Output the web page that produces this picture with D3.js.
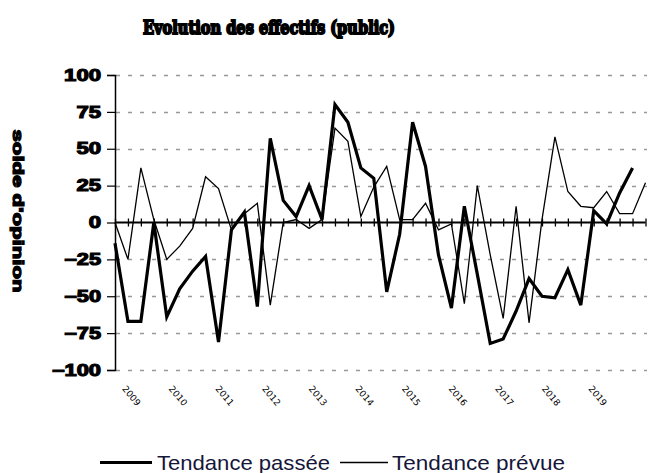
<!DOCTYPE html>
<html><head><meta charset="utf-8">
<script src="https://cdn.jsdelivr.net/npm/d3@7"></script>
<style>html,body{margin:0;padding:0;background:#fff;}svg{display:block;}</style>
</head><body>
<svg id="c" width="672" height="473"></svg>
<script>
// Quarterly categories
const categories = ["2008T3","2008T4"];
for (let y = 2009; y <= 2018; y++) for (let q = 1; q <= 4; q++) categories.push(y + "T" + q);

const passee = [-14,-67,-67,0,-64,-45,-33,-23,-81,-5,7,-57,57,15,4,25,2,80,68,37,30,-47,-8,68,38,-22,-58,11,-35,-82,-79,-60,-38,-50,-51,-32,-56,8,-1,20,37,null];
const prevue = [0,-25,37,2,-25,-16,-4,31,23,-5,6,13,-56,0,2,-4,2,64,55,4,24,38,2,2,13,-5,-1,-55,25,-22,-65,11,-68,2,58,21,11,10,21,6,6,27];
const yTicks = [100,75,50,25,0,-25,-50,-75,-100];
const yearLabels = ["2009","2010","2011","2012","2013","2014","2015","2016","2017","2018","2019"];
const seriesNames = ["Tendance passée","Tendance prévue"];

const svg = d3.select("#c");
svg.append("rect").attr("width",672).attr("height",473).attr("fill","#fff");

const x = d3.scalePoint().domain(categories).range([115, 645.5]);
const y = d3.scaleLinear().domain([-100,100]).range([370,75]);

// gridlines
svg.append("g").selectAll("path").data(yTicks.filter(d=>d!==0)).join("path")
  .attr("d",d=>`M116,${Math.round(y(d))+0.5}H647`)
  .attr("fill","none")
  .attr("stroke","#999").attr("stroke-width",1.5).attr("stroke-dasharray","4,8");

// y axis
const yAxis = svg.append("g").attr("transform","translate(115,0)")
  .call(d3.axisLeft(y).tickValues(yTicks).tickSize(8).tickFormat(d3.format("d")));
yAxis.select(".domain").attr("stroke","#000").attr("stroke-width",1.5);
yAxis.selectAll(".tick line").attr("stroke","#000").attr("stroke-width",1.2);
yAxis.selectAll(".tick text")
  .attr("x",-14)
  .attr("font-family","'Liberation Sans', Arial, sans-serif")
  .attr("font-weight","bold").attr("font-size",16)
  .attr("fill","#000").attr("stroke","#000").attr("stroke-width",1.1)
  .attr("textLength",d=>String(d).length*12.3).attr("lengthAdjust","spacingAndGlyphs");

// x axis at 0
const xAxis = svg.append("g").attr("transform",`translate(0,${y(0)})`)
  .call(d3.axisBottom(x).tickSize(4).tickFormat(""));
xAxis.select(".domain").attr("stroke","#000").attr("stroke-width",2).attr("d",`M${x.range()[0]},0H${x.range()[1]}`);
xAxis.selectAll(".tick line").attr("y1",-4).attr("y2",4).attr("stroke","#000").attr("stroke-width",1.3);

// year labels (rotated)
const yl = d3.scaleLinear().domain([0, yearLabels.length-1])
  .range([x(categories[0]) + x.step()*0.52, x(categories[36]) + x.step()*0.56]);
svg.append("g").selectAll("text").data(yearLabels).join("text")
  .attr("transform",(d,i)=>`translate(${yl(i)},${389}) rotate(50)`)
  .attr("font-family","'DejaVu Sans', sans-serif").attr("font-size",9)
  .attr("fill","#000").text(d=>d);

// lines
const line = d3.line().defined(d=>d[1]!==null).x(d=>x(d[0])).y(d=>y(d[1]));
svg.append("path").datum(categories.map((c,i)=>[c,prevue[i]]))
  .attr("d",line).attr("fill","none").attr("stroke","#000").attr("stroke-width",1.3)
  .attr("stroke-linejoin","miter");
svg.append("path").datum(categories.map((c,i)=>[c,passee[i]]))
  .attr("d",line).attr("fill","none").attr("stroke","#000").attr("stroke-width",3.2)
  .attr("stroke-linejoin","miter");

// title
svg.append("text").attr("x",269).attr("y",34).attr("text-anchor","middle")
  .attr("font-family","'DejaVu Serif', 'Liberation Serif', serif").attr("font-weight","bold")
  .attr("font-size",18).attr("fill","#000").attr("stroke","#000").attr("stroke-width",2)
  .attr("textLength",252).attr("lengthAdjust","spacingAndGlyphs")
  .text("Evolution des effectifs (public)");

// y title
svg.append("text").attr("transform","translate(13,211) rotate(90)").attr("text-anchor","middle")
  .attr("font-family","'Liberation Sans', Arial, sans-serif").attr("font-weight","bold")
  .attr("font-size",15).attr("fill","#000").attr("stroke","#000").attr("stroke-width",1.2)
  .attr("textLength",163).attr("lengthAdjust","spacingAndGlyphs")
  .text("solde d'opinion");

// legend
const leg = [{name:seriesNames[0], w:3.2, x1:100, x2:152, tx:157},
             {name:seriesNames[1], w:1.4, x1:340, x2:388, tx:392}];
const lg = svg.append("g");
lg.selectAll("line").data(leg).join("line")
  .attr("x1",d=>d.x1).attr("x2",d=>d.x2).attr("y1",462.5).attr("y2",462.5)
  .attr("stroke","#000").attr("stroke-width",d=>d.w);
lg.selectAll("text").data(leg).join("text")
  .attr("x",d=>d.tx).attr("y",470)
  .attr("font-family","'Liberation Sans', Arial, sans-serif").attr("font-size",21)
  .attr("fill","#16163a").attr("textLength",173).attr("lengthAdjust","spacingAndGlyphs")
  .text(d=>d.name);
</script>
</body></html>
